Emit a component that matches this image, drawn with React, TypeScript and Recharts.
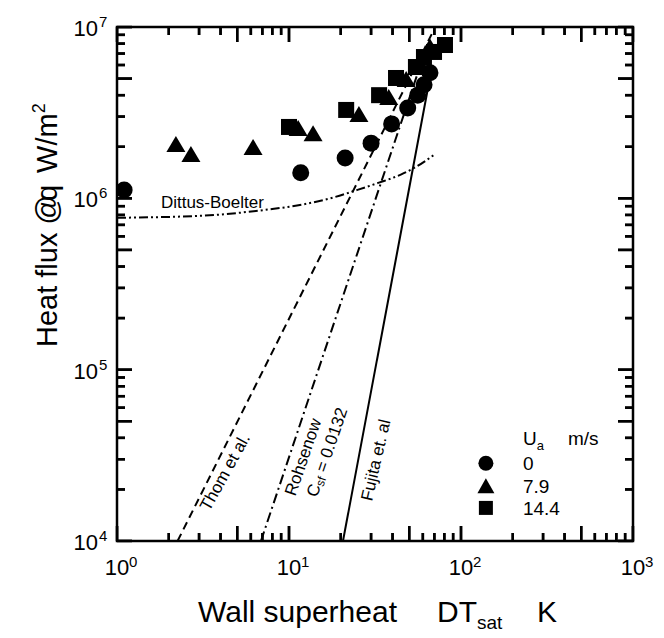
import { ReferenceArea, Scatter, ScatterChart, XAxis, YAxis } from "recharts";

const font = '"Liberation Sans", Arial, Helvetica, sans-serif';
const W = 664;
const H = 638;
const margin = { top: 27, right: 31, bottom: 96, left: 116 };
const PW = W - 117 - margin.right;
const PH = H - margin.top - 97;

// axis ticks
const xDecades = [1, 10, 100, 1000];
const yDecades = [1e4, 1e5, 1e6, 1e7];
const minorSteps = [1, 2, 3, 4, 5, 6, 7, 8, 9];
const xRange: [number, number] = [1, 1000];
const yRange: [number, number] = [1e4, 1e7];

const buildTicks = (decades: number[]) => {
  const out: number[] = [];
  decades.forEach((d, i) => {
    if (i === decades.length - 1) out.push(d);
    else minorSteps.forEach((s) => out.push(d * s));
  });
  return out;
};
const xTicks = buildTicks(xDecades);
const yTicks = buildTicks(yDecades);

// measured heat flux, by air velocity U_a
const ua0 = [
  { x: 1.1, y: 1.12e6 },
  { x: 11.7, y: 1.41e6 },
  { x: 21.2, y: 1.72e6 },
  { x: 30, y: 2.1e6 },
  { x: 39.5, y: 2.72e6 },
  { x: 49, y: 3.37e6 },
  { x: 56, y: 4.0e6 },
  { x: 61, y: 4.6e6 },
  { x: 66, y: 5.4e6 },
];
const ua79 = [
  { x: 2.2, y: 2.05e6 },
  { x: 2.69, y: 1.79e6 },
  { x: 6.18, y: 1.97e6 },
  { x: 11.3, y: 2.54e6 },
  { x: 13.8, y: 2.37e6 },
  { x: 25.5, y: 3.06e6 },
  { x: 38, y: 3.85e6 },
  { x: 48, y: 4.9e6 },
  { x: 58, y: 6.0e6 },
  { x: 66, y: 7.6e6 },
];
const ua144 = [
  { x: 10, y: 2.61e6 },
  { x: 21.5, y: 3.28e6 },
  { x: 33.4, y: 4.0e6 },
  { x: 41.9, y: 5.04e6 },
  { x: 54.7, y: 5.84e6 },
  { x: 60.9, y: 6.68e6 },
  { x: 69.7, y: 7.15e6 },
  { x: 80.7, y: 7.85e6 },
];

// correlations
const dittus = [
  { x: 1, y: 7.7e5 },
  { x: 3, y: 7.9e5 },
  { x: 7.5, y: 8.6e5 },
  { x: 12, y: 9.2e5 },
  { x: 18, y: 1.01e6 },
  { x: 25, y: 1.12e6 },
  { x: 33, y: 1.23e6 },
  { x: 45, y: 1.38e6 },
  { x: 55, y: 1.53e6 },
  { x: 70, y: 1.8e6 },
];
const thom = [
  { x: 2.25, y: 1e4 },
  { x: 68, y: 9.2e6 },
];
const rohsenow = [
  { x: 6.87, y: 1e4 },
  { x: 60, y: 6.6e6 },
];
const fujita = [
  { x: 20.6, y: 1e4 },
  { x: 64, y: 4.3e6 },
];

// label anchors (data coords)
const dittusLabel = [{ x: 1.8, y: 8.8e5 }];
const thomLabel = [{ x: 4.25, y: 2.52e4 }];
const rohsenowLabel = [{ x: 12.1, y: 3.09e4 }];
const csfLabel = [{ x: 16.6, y: 3.3e4 }];
const fujitaLabel = [{ x: 32, y: 2.97e4 }];

// legend
const legendTitle = [{ x: 229, y: 3.63e4 }];
const legendRows = [
  { x: 229, y: 2.59e4, label: "0", mark: "dot" },
  { x: 229, y: 1.9e4, label: "7.9", mark: "tri" },
  { x: 229, y: 1.42e4, label: "14.4", mark: "sq" },
];

const isMajor = (v: number) => {
  const e = Math.round(Math.log10(v));
  return Math.abs(v - Math.pow(10, e)) < 1e-6 * v;
};
const tickLen = (v: number) => {
  const lead = Math.round(v / Math.pow(10, Math.floor(Math.log10(v) + 1e-9)));
  return isMajor(v) || lead === 5 ? 15 : 8;
};

// tick marks on all four sides, pointing inward
const bottomMarks = xTicks.map((v) => ({ x: v, y: yRange[0], len: tickLen(v) }));
const topMarks = xTicks.map((v) => ({ x: v, y: yRange[1], len: tickLen(v) }));
const leftMarks = yTicks.map((v) => ({ x: xRange[0], y: v, len: tickLen(v) }));
const rightMarks = yTicks.map((v) => ({ x: xRange[1], y: v, len: tickLen(v) }));

const mark = (dx: number, dy: number) => (p: any) => {
  const l = Number(p.payload?.len) || 8;
  return (
    <line
      x1={p.cx}
      y1={p.cy}
      x2={p.cx + dx * l}
      y2={p.cy + dy * l}
      stroke="#000"
      strokeWidth={2.5}
    />
  );
};

function XTick({ x, y, payload }: any) {
  const v = payload.value;
  const len = tickLen(v);
  const e = Math.round(Math.log10(v));
  return (
    <g>
      <line x1={x} x2={x} y1={y} y2={y - len} stroke="#000" strokeWidth={2.5} />
      <line x1={x} x2={x} y1={y - PH} y2={y - PH + len} stroke="#000" strokeWidth={2.5} />
      {isMajor(v) && (
        <g fontFamily={font} fill="#000">
          <text x={x} y={y + 34} textAnchor="middle" fontSize={22}>
            10
          </text>
          <text x={x + 12} y={y + 26} textAnchor="start" fontSize={15}>
            {e}
          </text>
        </g>
      )}
    </g>
  );
}

function YTick({ x, y, payload }: any) {
  const v = payload.value;
  const len = tickLen(v);
  const e = Math.round(Math.log10(v));
  return (
    <g>
      <line x1={x} x2={x + len} y1={y} y2={y} stroke="#000" strokeWidth={2.5} />
      <line x1={x + PW} x2={x + PW - len} y1={y} y2={y} stroke="#000" strokeWidth={2.5} />
      {isMajor(v) && (
        <g fontFamily={font} fill="#000">
          <text x={x - 19} y={y + 9} textAnchor="end" fontSize={22}>
            10
          </text>
          <text x={x - 18} y={y} textAnchor="start" fontSize={15}>
            {e}
          </text>
        </g>
      )}
    </g>
  );
}

const Dot = (p: any) => <circle cx={p.cx} cy={p.cy} r={8.5} fill="#000" />;
const Tri = (p: any) => (
  <polygon
    points={`${p.cx},${p.cy - 9} ${p.cx + 9.5},${p.cy + 7} ${p.cx - 9.5},${p.cy + 7}`}
    fill="#000"
  />
);
const Sq = (p: any) => <rect x={p.cx - 8} y={p.cy - 8} width={16} height={16} fill="#000" />;
const Nothing = () => <g />;

const rotLabel =
  (text: React.ReactNode, angle: number, size = 17) =>
  (p: any) => (
    <text
      x={p.cx}
      y={p.cy}
      transform={`rotate(${angle}, ${p.cx}, ${p.cy})`}
      textAnchor="middle"
      dominantBaseline="central"
      fontFamily={font}
      fontSize={size}
      fill="#000"
    >
      {text}
    </text>
  );

const DittusText = (p: any) => (
  <text x={p.cx} y={p.cy} fontFamily={font} fontSize={17} fill="#000">
    Dittus-Boelter
  </text>
);

const LegendTitle = (p: any) => (
  <g fontFamily={font} fontSize={19} fill="#000">
    <text x={p.cx} y={p.cy}>
      U<tspan fontSize={13} dy={5}>a</tspan>
    </text>
    <text x={p.cx + 45} y={p.cy}>
      m/s
    </text>
  </g>
);

const LegendRow = (p: any) => {
  const { cx, cy, payload } = p;
  const mx = cx - 37;
  const my = cy - 7;
  return (
    <g fill="#000">
      {payload.mark === "dot" && <circle cx={mx} cy={my} r={7.5} />}
      {payload.mark === "tri" && (
        <polygon points={`${mx},${my - 8} ${mx + 8.5},${my + 7} ${mx - 8.5},${my + 7}`} />
      )}
      {payload.mark === "sq" && <rect x={mx - 7} y={my - 7} width={14} height={14} />}
      <text x={cx} y={cy} fontFamily={font} fontSize={19}>
        {payload.label}
      </text>
    </g>
  );
};

const lineStyle = (dash?: string) => ({
  stroke: "#000",
  strokeWidth: 2,
  strokeDasharray: dash,
  fill: "none",
});

export default function App() {
  return (
    <div style={{ position: "absolute", left: 0, top: 0 }}>
      <ScatterChart width={W} height={H} margin={margin}>
        <XAxis
          type="number"
          dataKey="x"
          scale="log"
          domain={xRange}
          ticks={xTicks}
          interval={0}
          allowDataOverflow
          height={1}
          tickSize={0}
          tickMargin={0}
          tickLine={false}
          axisLine={false}
          tick={(p: any) => <XTick {...p} />}
        />
        <YAxis
          type="number"
          dataKey="y"
          scale="log"
          domain={yRange}
          ticks={yTicks}
          interval={0}
          allowDataOverflow
          width={1}
          tickSize={0}
          tickMargin={0}
          tickLine={false}
          axisLine={false}
          tick={(p: any) => <YTick {...p} />}
        />
        <ReferenceArea
          x1={xRange[0]}
          x2={xRange[1]}
          y1={yRange[0]}
          y2={yRange[1]}
          fill="none"
          fillOpacity={0}
          stroke="#000"
          strokeWidth={2.5}
        />
        <Scatter
          data={dittus}
          line={lineStyle("9 3 2 3 2 3")}
          lineJointType="monotoneX"
          shape={Nothing}
          isAnimationActive={false}
        />
        <Scatter data={thom} line={lineStyle("8 5")} shape={Nothing} isAnimationActive={false} />
        <Scatter
          data={rohsenow}
          line={lineStyle("10 4 2 4")}
          shape={Nothing}
          isAnimationActive={false}
        />
        <Scatter data={fujita} line={lineStyle()} shape={Nothing} isAnimationActive={false} />
        <Scatter data={ua0} shape={Dot} isAnimationActive={false} />
        <Scatter data={ua79} shape={Tri} isAnimationActive={false} />
        <Scatter data={ua144} shape={Sq} isAnimationActive={false} />
        <Scatter data={bottomMarks} shape={mark(0, -1)} isAnimationActive={false} />
        <Scatter data={topMarks} shape={mark(0, 1)} isAnimationActive={false} />
        <Scatter data={leftMarks} shape={mark(1, 0)} isAnimationActive={false} />
        <Scatter data={rightMarks} shape={mark(-1, 0)} isAnimationActive={false} />
        <Scatter data={dittusLabel} shape={DittusText} isAnimationActive={false} />
        <Scatter data={thomLabel} shape={rotLabel("Thom et al.", -61)} isAnimationActive={false} />
        <Scatter
          data={rohsenowLabel}
          shape={rotLabel("Rohsenow", -71)}
          isAnimationActive={false}
        />
        <Scatter
          data={csfLabel}
          shape={rotLabel(
            <>
              C<tspan fontSize={12} dy={4}>sf</tspan>
              <tspan dy={-4}> = 0.0132</tspan>
            </>,
            -71
          )}
          isAnimationActive={false}
        />
        <Scatter
          data={fujitaLabel}
          shape={rotLabel("Fujita et. al", -77)}
          isAnimationActive={false}
        />
        <Scatter data={legendTitle} shape={LegendTitle} isAnimationActive={false} />
        <Scatter data={legendRows} shape={LegendRow} isAnimationActive={false} />
        <text x={198} y={622} fontFamily={font} fontSize={30} fill="#000">
          Wall superheat
        </text>
        <text x={437} y={622} fontFamily={font} fontSize={30} fill="#000">
          DT<tspan fontSize={19} dy={7}>sat</tspan>
        </text>
        <text x={537} y={622} fontFamily={font} fontSize={30} fill="#000">
          K
        </text>
        <text
          x={57}
          y={347}
          transform="rotate(-90, 57, 347)"
          fontFamily={font}
          fontSize={29}
          fill="#000"
        >
          Heat flux @<tspan dx={-6}>q</tspan>
          <tspan dx={12}>W/m</tspan>
          <tspan fontSize={18} dy={-12}>
            2
          </tspan>
        </text>
      </ScatterChart>
    </div>
  );
}
